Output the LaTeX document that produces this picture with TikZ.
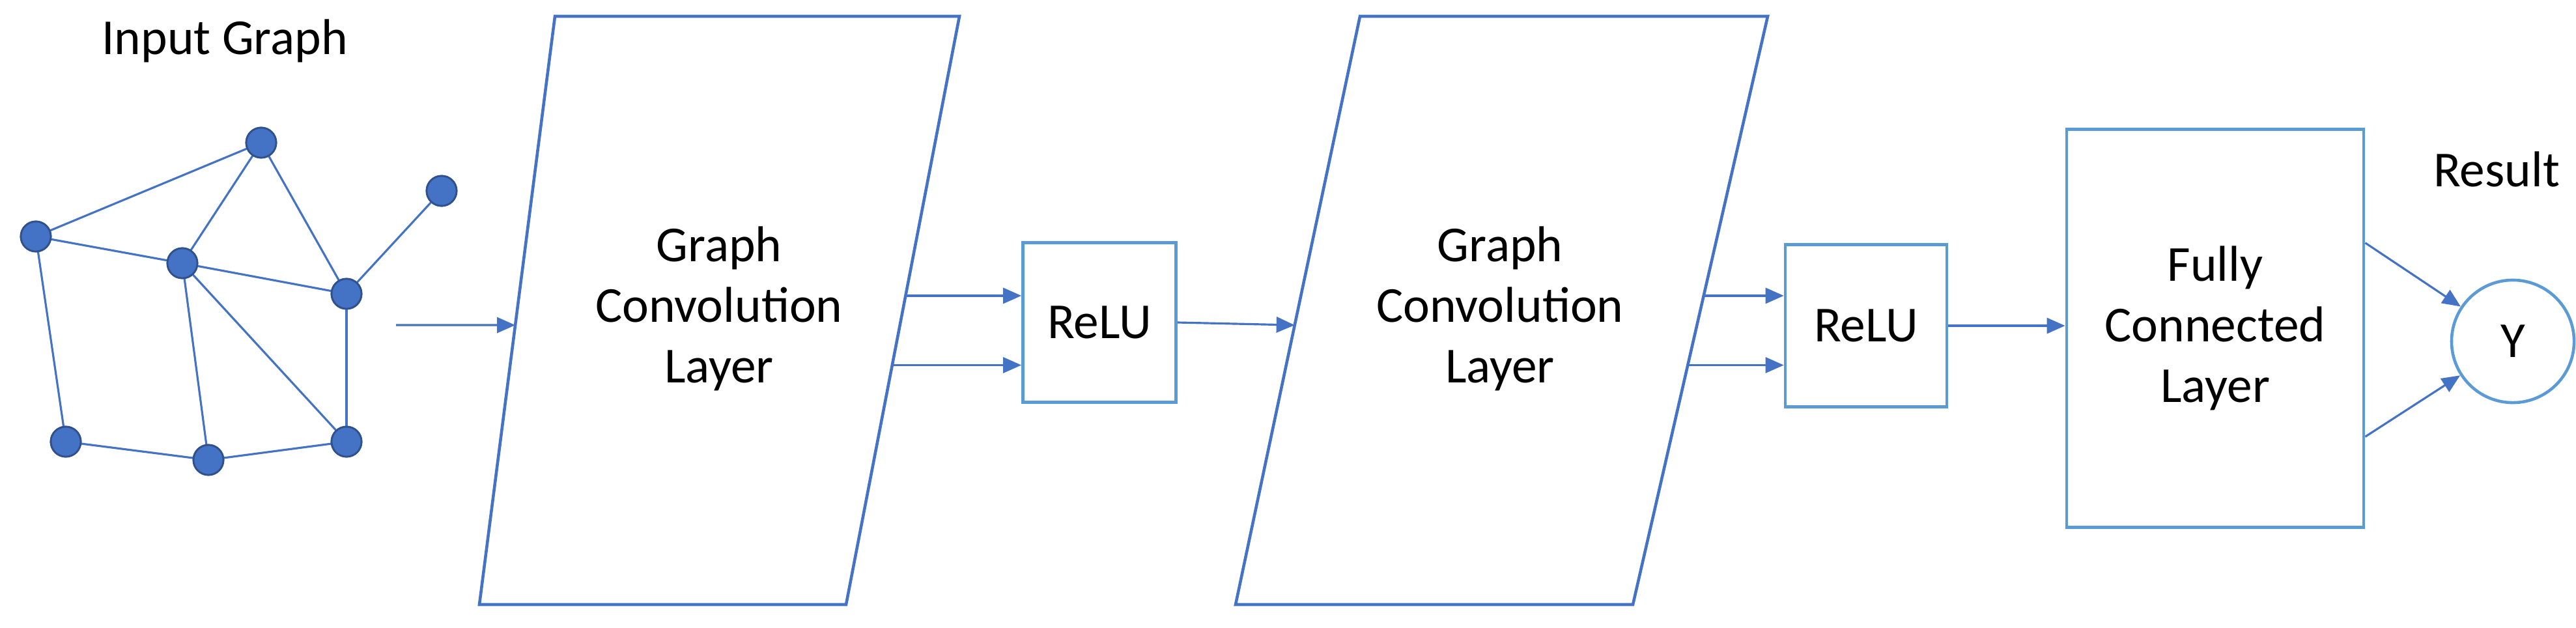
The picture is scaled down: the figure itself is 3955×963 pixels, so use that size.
\documentclass[tikz,border=0pt]{standalone}
\usepackage{fontspec}
\setmainfont{Carlito}
\usetikzlibrary{calc,arrows.meta}
\definecolor{dkblue}{HTML}{4472C4}
\definecolor{ltblue}{HTML}{5B9BD5}
\definecolor{edgeblue}{HTML}{2F528F}
\tikzset{
    x=0.01cm, y=-0.01cm,
    % graph vertices and edges
    vert/.style={circle, fill=dkblue, draw=edgeblue, line width=0.8pt,
        minimum size=0.46cm, inner sep=0pt},
    edge/.style={dkblue, line width=0.9pt},
    % network blocks
    layer/.style={dkblue, line width=1.3pt},
    box/.style={draw=ltblue, line width=1.3pt, align=center, inner sep=0pt},
    lbl/.style={align=center, font=\fontsize{22}{26.5}\selectfont},
    flow/.style={dkblue, line width=0.9pt,
        -{Triangle[length=0.28cm,width=0.24cm]}}}

\begin{document}
\begin{tikzpicture}
\useasboundingbox (0,0) rectangle (3955,963);

% input graph
\node [lbl] (title) at (345,63) {Input Graph};
\node [vert] (n1) at (55,363) {};
\node [vert] (n2) at (401,219) {};
\node [vert] (n3) at (678,293) {};
\node [vert] (n4) at (280,404) {};
\node [vert] (n5) at (532,451) {};
\node [vert] (n6) at (101,678) {};
\node [vert] (n7) at (320,706) {};
\node [vert] (n8) at (532,678) {};
\foreach \a/\b in {n1/n2,n1/n4,n1/n6,n2/n4,n2/n5,n3/n5,n4/n5,n4/n7,n4/n8,
    n5/n8,n6/n7,n7/n8}
    \draw [edge] (\a.center) -- (\b.center);
\foreach \n in {n1,n2,n3,n4,n5,n6,n7,n8}
    \node [vert] at (\n) {};
\coordinate (gstart) at (608,499);

% first graph convolution layer
\coordinate (g1tl) at (852,25);
\coordinate (g1tr) at (1473,25);
\coordinate (g1br) at (1299,928);
\coordinate (g1bl) at (736,928);
\draw [layer] (g1tl) -- (g1tr) -- (g1br) -- (g1bl) -- cycle;
\node [lbl] (gc1) at (1104,474) {Graph\\Convolution\\Layer};
\coordinate (g1in) at ($(g1tl)!0.525!(g1bl)$);
\coordinate (g1a) at ($(g1tr)!0.475!(g1br)$);
\coordinate (g1b) at ($(g1tr)!0.593!(g1br)$);

% first ReLU
\node [box, lbl, minimum width=2.35cm, minimum height=2.45cm]
    (relu1) at (1688,495) {ReLU};

% second graph convolution layer
\coordinate (g2tl) at (2088,25);
\coordinate (g2tr) at (2714,25);
\coordinate (g2br) at (2507,928);
\coordinate (g2bl) at (1897,928);
\draw [layer] (g2tl) -- (g2tr) -- (g2br) -- (g2bl) -- cycle;
\node [lbl] (gc2) at (2303,474) {Graph\\Convolution\\Layer};
\coordinate (g2in) at ($(g2tl)!0.525!(g2bl)$);
\coordinate (g2a) at ($(g2tr)!0.475!(g2br)$);
\coordinate (g2b) at ($(g2tr)!0.593!(g2br)$);

% second ReLU
\node [box, lbl, minimum width=2.48cm, minimum height=2.49cm]
    (relu2) at (2865,500) {ReLU};

% fully connected layer and result
\node [box, lbl, minimum width=4.56cm, minimum height=6.11cm]
    (fc) at (3401,504) {Fully\\Connected\\Layer};
\node [lbl] (result) at (3833,260) {Result};
\node [draw=ltblue, line width=1.3pt, circle, minimum size=1.88cm,
    inner sep=0pt, font=\fontsize{22}{26.5}\selectfont] (y) at (3858,524) {Y};
\coordinate (fca) at ($(fc.north east)!0.287!(fc.south east)$);
\coordinate (fcb) at ($(fc.north east)!0.77!(fc.south east)$);

% connectors
\draw [flow] (gstart) -- (g1in);
\draw [flow] (g1a) -- (g1a -| relu1.west);
\draw [flow] (g1b) -- (g1b -| relu1.west);
\draw [flow] (relu1.east) -- (g2in);
\draw [flow] (g2a) -- (g2a -| relu2.west);
\draw [flow] (g2b) -- (g2b -| relu2.west);
\draw [flow] (relu2.east) -- (relu2.east -| fc.west);
\draw [flow] (fca) -- (y);
\draw [flow] (fcb) -- (y);
\end{tikzpicture}
\end{document}
